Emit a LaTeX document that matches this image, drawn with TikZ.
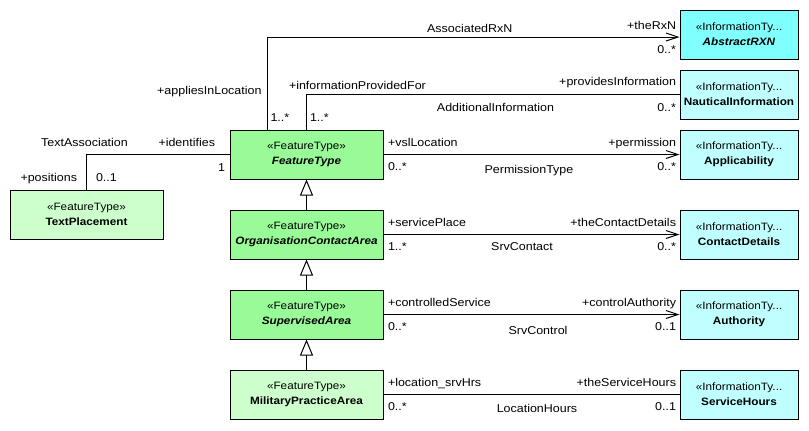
\documentclass[tikz,border=0pt]{standalone}
\usepackage{fontspec}
\setmainfont[FakeStretch=1.1]{Liberation Sans}
\usetikzlibrary{arrows.meta, calc, positioning}
\definecolor{ftgreen}{RGB}{152,251,152}
\definecolor{ftlight}{RGB}{204,255,204}
\definecolor{ifcyan}{RGB}{128,255,255}
\definecolor{iflight}{RGB}{191,255,255}
\begin{document}
\begin{tikzpicture}[x=.75pt, y=-.75pt, line width=.75pt,
	lbl/.style={inner sep=0pt, font=\fontsize{8.5}{10}\selectfont},
	ftbox/.style={draw, minimum width=114.75pt, minimum height=36.75pt, inner sep=0pt, align=center, font=\fontsize{8}{11.25}\selectfont},
	infbox/.style={ftbox, minimum width=88.5pt},
	rs/.style={lbl, pos=0, anchor=base west, xshift=3pt, yshift=6pt},
	ms/.style={lbl, pos=0, anchor=base west, xshift=3pt, yshift=-12pt},
	re/.style={lbl, pos=1, anchor=base east, xshift=-2.25pt, yshift=6pt},
	me/.style={lbl, pos=1, anchor=base east, xshift=-2.25pt, yshift=-12pt},
	nav/.style={-{Straight Barb[length=9pt, width=6pt]}},
	gen/.style={-{Triangle[open, length=12pt, width=9.75pt]}}]
	    \useasboundingbox (0,0) rectangle (809,430);
	    \node[ftbox, fill=ftgreen] (ft) at (306.5,154.5) {«FeatureType»\\\textbf{\textit{FeatureType}}};
	    \node[ftbox, fill=ftgreen] (oca) at (306.5,234.5) {«FeatureType»\\\textbf{\textit{OrganisationContactArea}}};
	    \node[ftbox, fill=ftgreen] (sa) at (306.5,314.5) {«FeatureType»\\\textbf{\textit{SupervisedArea}}};
	    \node[ftbox, fill=ftlight] (mpa) at (306.5,394.5) {«FeatureType»\\\textbf{MilitaryPracticeArea}};
	    \node[ftbox, fill=ftlight] (tp) at (86.5,214.5) {«FeatureType»\\\textbf{TextPlacement}};
	    \node[infbox, fill=ifcyan] (rxn) at (739,34.5) {«InformationTy...\\\textbf{\textit{AbstractRXN}}};
	    \node[infbox, fill=iflight] (ni) at (739,94.5) {«InformationTy...\\\textbf{NauticalInformation}};
	    \node[infbox, fill=iflight] (app) at (739,154.5) {«InformationTy...\\\textbf{Applicability}};
	    \node[infbox, fill=iflight] (cd) at (739,234.5) {«InformationTy...\\\textbf{ContactDetails}};
	    \node[infbox, fill=iflight] (auth) at (739,314.5) {«InformationTy...\\\textbf{Authority}};
	    \node[infbox, fill=iflight] (sh) at (739,394.5) {«InformationTy...\\\textbf{ServiceHours}};
	    \draw[nav] ([xshift=-29.625pt]ft.north) |- ([yshift=-1.875pt]rxn.west)
	        node[lbl, pos=0, anchor=base west, xshift=2.25pt, yshift=6pt] {1..*}
	        node[lbl, pos=.188, anchor=base east, xshift=-3.75pt] {+appliesInLocation}
	        node[lbl, pos=.75, anchor=base, xshift=-2.6pt, yshift=3.75pt] {AssociatedRxN}
	        node[re] {+theRxN} node[me] {0..*};
	    \draw (ft.north) |- (ni.west)
	        node[lbl, pos=0, anchor=base west, xshift=2.25pt, yshift=6pt] {1..*}
	        node[lbl, pos=.5, anchor=base west, xshift=-13.5pt, yshift=3.75pt] {+informationProvidedFor}
	        node[lbl, pos=.75, anchor=base, xshift=1.9pt, yshift=-12.75pt] {AdditionalInformation}
	        node[re, yshift=.75pt] {+providesInformation} node[me, yshift=-.75pt] {0..*};
	    \draw[nav] (ft) -- (app) node[rs] {+vslLocation} node[ms] {0..*}
	        node[re] {+permission} node[me] {0..*}
	        node[lbl, midway, anchor=base, xshift=-1.9pt, yshift=-14.25pt] {PermissionType};
	    \draw[nav] (oca) -- (cd) node[rs] {+servicePlace} node[ms] {1..*}
	        node[re] {+theContactDetails} node[me] {0..*}
	        node[lbl, midway, anchor=base, xshift=-7.1pt, yshift=-12pt] {SrvContact};
	    \draw[nav] (sa) -- (auth) node[rs] {+controlledService} node[ms] {0..*}
	        node[re] {+controlAuthority} node[me] {0..1}
	        node[lbl, midway, anchor=base, xshift=4.9pt, yshift=-15pt] {SrvControl};
	    \draw (mpa) -- (sh) node[rs] {+location\_srvHrs} node[ms] {0..*}
	        node[re] {+theServiceHours} node[me] {0..1}
	        node[lbl, midway, anchor=base, xshift=4.1pt, yshift=-13.5pt] {LocationHours};
	    \draw (ft.west) -| (tp.north)
	        node[lbl, pos=0, anchor=base east, xshift=-10.5pt, yshift=6pt] {+identifies}
	        node[lbl, pos=0, anchor=base east, xshift=-3pt, yshift=-12.75pt] {1}
	        node[lbl, pos=.5, anchor=base, xshift=-1.5pt, yshift=6pt] {TextAssociation}
	        node[lbl, pos=1, anchor=base east, xshift=-6.75pt, yshift=6pt] {+positions}
	        node[lbl, pos=1, anchor=base west, xshift=6.75pt, yshift=6pt] {0..1};
	    \draw[gen] (oca) -- (ft);
	    \draw[gen] (sa) -- (oca);
	    \draw[gen] (mpa) -- (sa);
	\end{tikzpicture}
\end{document}
